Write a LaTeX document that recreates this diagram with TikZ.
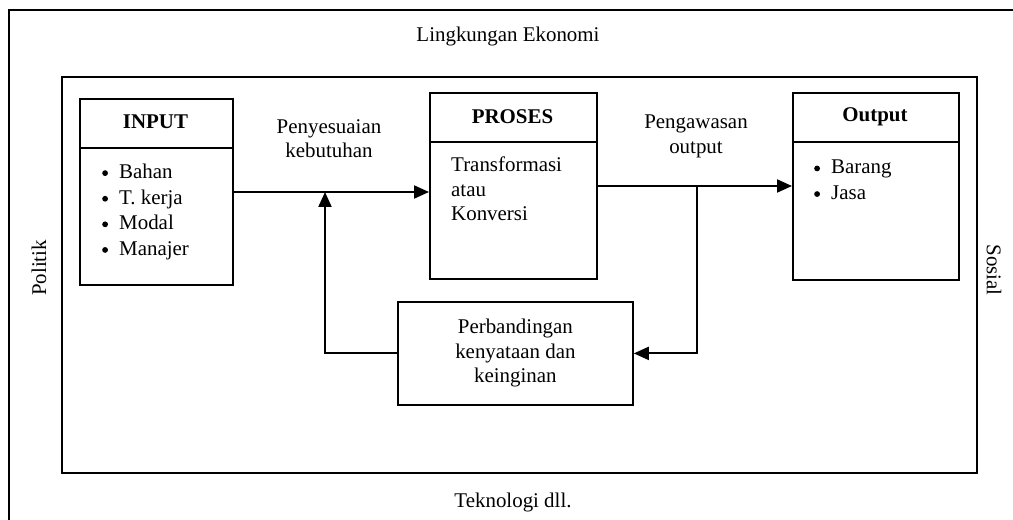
\documentclass[tikz,border=0pt]{standalone}
\usepackage{fontspec}
\setmainfont{Liberation Serif}
\usetikzlibrary{arrows.meta}
% list item marker: a filled dot in an 18bp slot
\newcommand\itemdot{\makebox[18bp][l]{\hspace{1bp}\raisebox{2.6bp}{\tikz\fill (0,0) circle (2.9bp);}}}
\begin{document}
\begin{tikzpicture}[x=1bp,y=-1bp,
  frame/.style={draw, line width=1.6bp},
  box/.style={draw, line width=1.8bp, anchor=north west, inner sep=0pt},
  txt/.style={font=\fontsize{21}{24.5}\selectfont, inner sep=0pt},
  headtxt/.style={font=\fontsize{21}{24.5}\selectfont\bfseries, inner sep=0pt},
  listtxt/.style={font=\fontsize{21}{25.7}\selectfont, inner sep=0pt, align=left, anchor=west},
  flow/.style={line width=2bp, -{Triangle[length=15bp,width=13bp]}},
  divider/.style={line width=1.8bp}]
\useasboundingbox (0,0) rectangle (1013,520);
\fill[white] (0,0) rectangle (1013,520);

% environment frame, open towards the right and the bottom
\coordinate (envTR) at (1013,10);
\coordinate (envTL) at (9,10);
\coordinate (envBL) at (9,520);
\draw[frame] (envTR) -- (envTL) -- (envBL);

% system boundary
\node[box, minimum width=915bp, minimum height=396bp] (sys) at (61,76) {};

% environment labels
\node[txt] (eko) at (508,37) {Lingkungan Ekonomi};
\node[txt] (tek) at (513,502) {Teknologi dll.};
\node[txt, rotate=90] (pol) at (39,268) {Politik};
\node[txt, rotate=-90] (sos) at (994,270) {Sosial};

% INPUT box
\node[box, minimum width=153bp, minimum height=186bp] (input) at (79,98) {};
\draw[divider] (input.west |- 0,148) -- (input.east |- 0,148);
\node[headtxt] (inputH) at (155.5,122) {INPUT};
\node[listtxt] (inputL) at (101,212) {\itemdot Bahan\\
  \itemdot T. kerja\\
  \itemdot Modal\\
  \itemdot Manajer};

% PROSES box
\node[box, minimum width=167bp, minimum height=186bp] (proses) at (429,92) {};
\draw[divider] (proses.west |- 0,142) -- (proses.east |- 0,142);
\node[headtxt] (prosesH) at (512.5,117) {PROSES};
\node[txt, align=left, anchor=west] (prosesL) at (451,189) {Transformasi\\atau\\Konversi};

% Output box
\node[box, minimum width=166bp, minimum height=187bp] (output) at (792,92) {};
\draw[divider] (output.west |- 0,142) -- (output.east |- 0,142);
\node[headtxt] (outputH) at (875,117) {Output};
\node[listtxt] (outputL) at (813,180) {\itemdot Barang\\
  \itemdot Jasa};

% comparison box
\node[box, minimum width=235bp, minimum height=103bp] (cmp) at (397,301) {};
\node[txt, align=center] (cmpL) at (cmp.center) {Perbandingan\\kenyataan dan\\keinginan};

% connector labels
\node[txt, align=center] (adj) at (329,138.5) {Penyesuaian\\kebutuhan};
\node[txt, align=center] (ctrl) at (696,136.5) {Pengawasan\\output};

% flows
\coordinate (inA) at (232,192);
\coordinate (inB) at (429,192);
\coordinate (j1) at (325,192);
\coordinate (outA) at (596,186);
\coordinate (outB) at (792,186);
\coordinate (j2) at (697,186);
\draw[flow] (inA) -- (inB);
\draw[flow] (outA) -- (outB);
\draw[flow] (j2) |- (cmp.east);
\draw[flow] (cmp.west) -| (j1);
\end{tikzpicture}
\end{document}
